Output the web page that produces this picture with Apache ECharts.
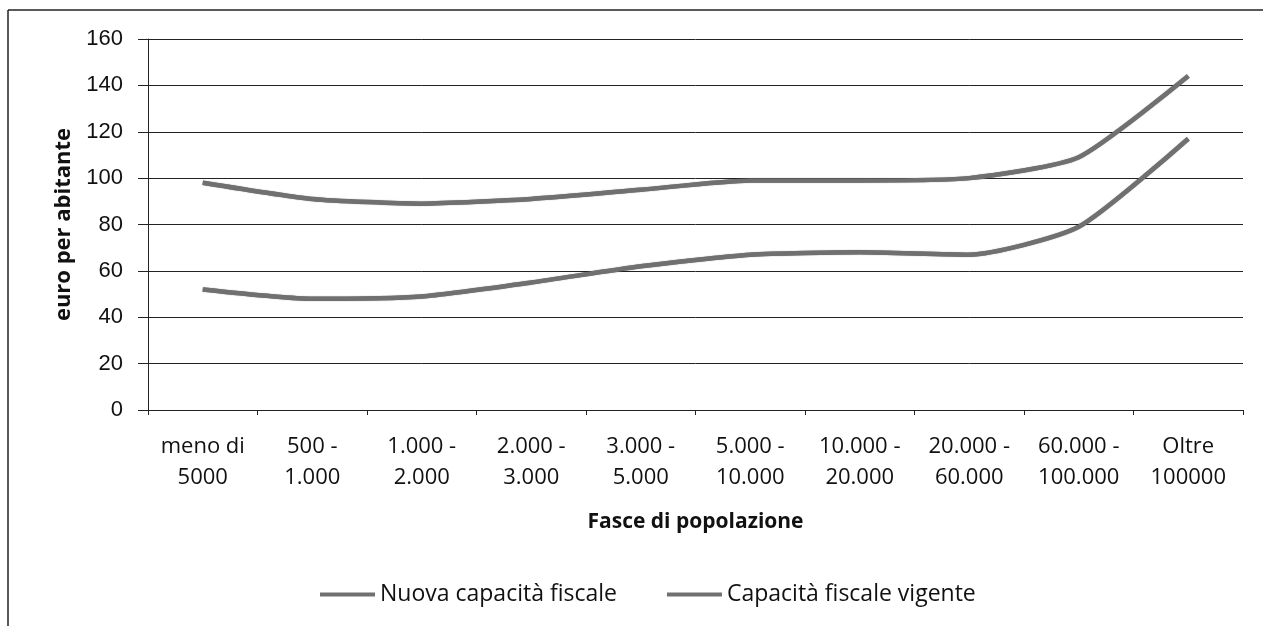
<!DOCTYPE html>
<html>
<head>
<meta charset="utf-8">
<script src="https://cdn.jsdelivr.net/npm/echarts@6/dist/echarts.min.js"></script>
<style>
  html, body { margin: 0; padding: 0; background: #fff; }
  #chart { width: 1263px; height: 626px; }
</style>
</head>
<body>
<div id="chart"></div>
<script>
// categorie (fasce di popolazione)
var categories = [
  "meno di\n5000", "500 -\n1.000", "1.000 -\n2.000", "2.000 -\n3.000", "3.000 -\n5.000",
  "5.000 -\n10.000", "10.000 -\n20.000", "20.000 -\n60.000", "60.000 -\n100.000", "Oltre\n100000"
];
// valori (euro per abitante)
var nuovaCapacita = [98, 91, 89, 91, 95, 99, 99, 100, 109, 144];
var capacitaVigente = [52, 48, 49, 55, 62, 67, 68, 67, 79, 117];
var yTicks = [0, 20, 40, 60, 80, 100, 120, 140, 160];

var chart = echarts.init(document.getElementById("chart"));

var lineColor = "#707070";
var fontFam = "'Open Sans', 'Liberation Sans', sans-serif";

chart.setOption({
  animation: false,
  // cornice del grafico (solo sinistra e sopra, come nella scansione)
  graphic: [
    { type: "line", shape: { x1: 8, y1: 10, x2: 1263, y2: 10 }, style: { stroke: "#222", lineWidth: 1.5 } },
    { type: "line", shape: { x1: 8, y1: 10, x2: 8, y2: 626 }, style: { stroke: "#222", lineWidth: 1.5 } }
  ],
  grid: {
    left: 148,
    right: 20,
    top: 39,
    bottom: 216,
    containLabel: false
  },
  legend: {
    top: 578,
    left: 315,
    itemWidth: 55,
    itemHeight: 4,
    itemGap: 50,
    icon: "rect",
    textStyle: { fontFamily: fontFam, fontSize: 23, color: "#111" },
    data: ["Nuova capacità fiscale", "Capacità fiscale vigente"]
  },
  xAxis: {
    type: "category",
    data: categories,
    boundaryGap: true,
    name: "Fasce di popolazione",
    nameLocation: "middle",
    nameGap: 102,
    nameTextStyle: { fontFamily: fontFam, fontSize: 21, fontWeight: "bold", color: "#111" },
    axisLine: { lineStyle: { color: "#222", width: 1 } },
    axisTick: { show: true, length: 5, inside: false, lineStyle: { color: "#222" } },
    axisLabel: {
      fontFamily: fontFam, fontSize: 22, color: "#111",
      lineHeight: 31, margin: 21, interval: 0
    }
  },
  yAxis: {
    type: "value",
    min: 0,
    max: 160,
    interval: 20,
    name: "euro per abitante",
    nameLocation: "middle",
    nameGap: 73,
    nameTextStyle: { fontFamily: fontFam, fontSize: 22, fontWeight: "bold", color: "#111" },
    axisLine: { show: true, lineStyle: { color: "#222", width: 1 } },
    axisTick: { show: true, length: 10, lineStyle: { color: "#222" } },
    axisLabel: {
      fontFamily: "'Liberation Sans', sans-serif", fontSize: 22, color: "#111", margin: 25,
      formatter: function (v) { return yTicks.indexOf(v) >= 0 ? String(v) : ""; }
    },
    splitLine: { show: true, lineStyle: { color: "#222", width: 1 } }
  },
  series: [
    {
      name: "Nuova capacità fiscale",
      type: "line",
      smooth: 0.2,
      symbol: "none",
      data: nuovaCapacita,
      itemStyle: { color: lineColor },
      lineStyle: { color: lineColor, width: 4.5, shadowColor: "rgba(0,0,0,0.6)", shadowBlur: 1 }
    },
    {
      name: "Capacità fiscale vigente",
      type: "line",
      smooth: 0.2,
      symbol: "none",
      data: capacitaVigente,
      itemStyle: { color: lineColor },
      lineStyle: { color: lineColor, width: 4.5, shadowColor: "rgba(0,0,0,0.6)", shadowBlur: 1 }
    }
  ]
});
</script>
</body>
</html>
